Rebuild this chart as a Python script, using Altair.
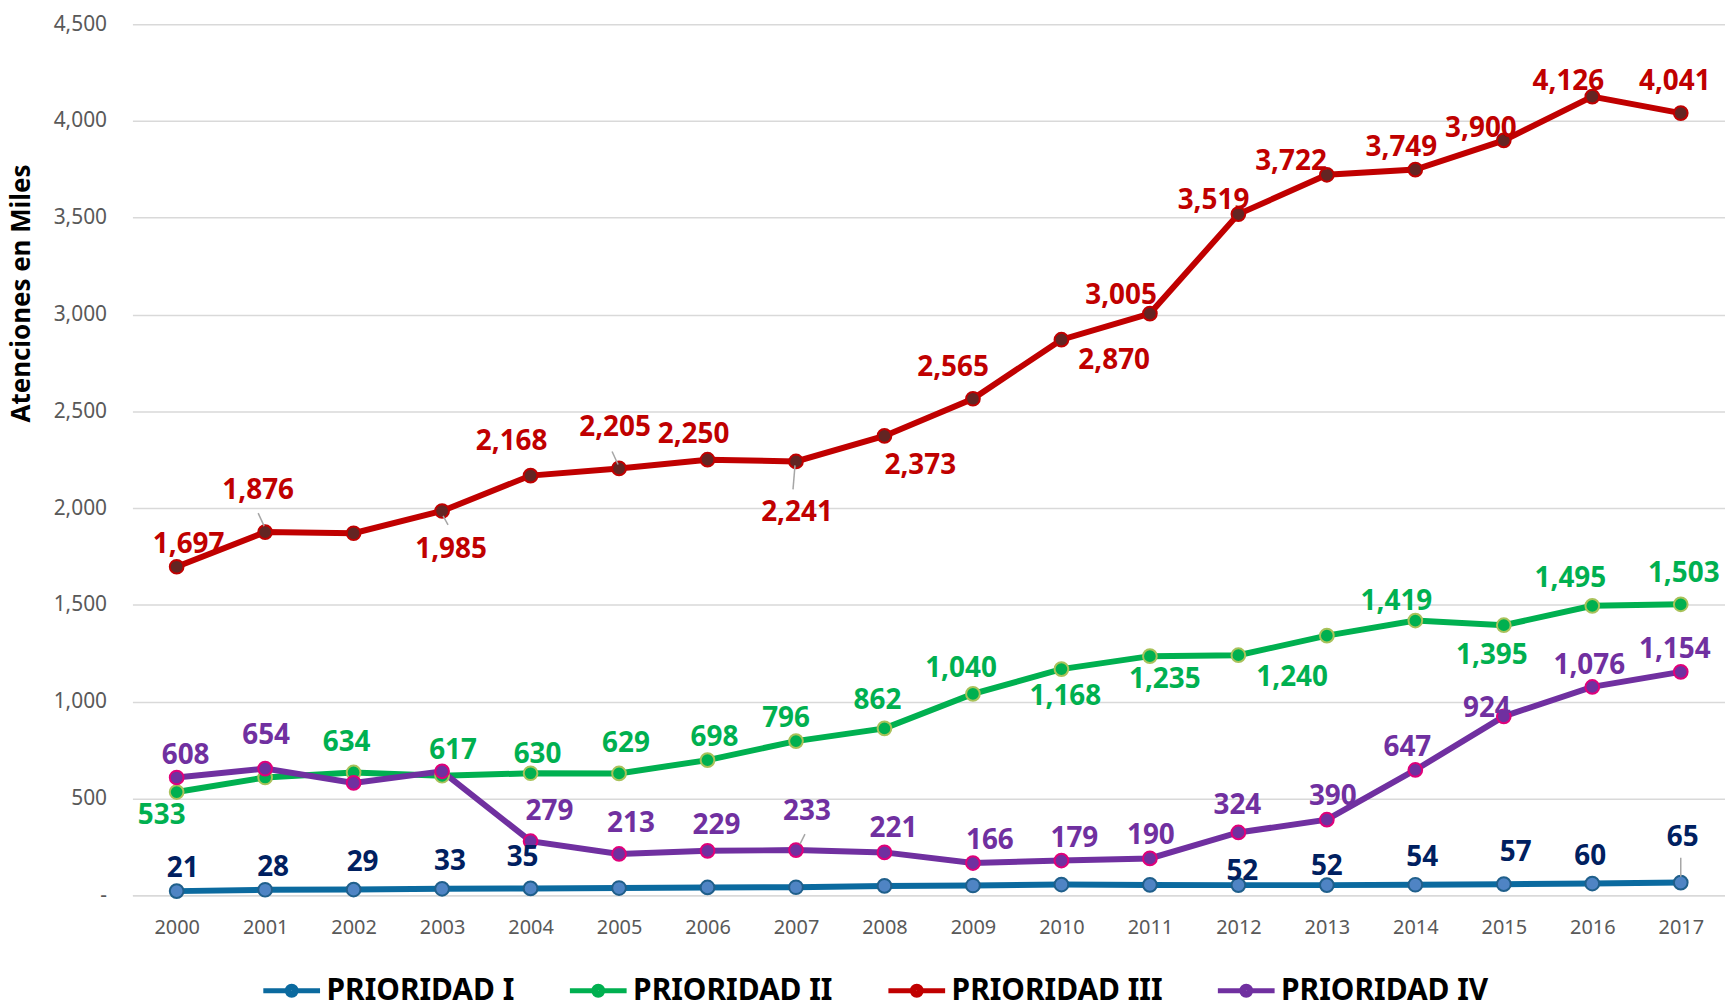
import altair as alt
import pandas as pd

YEARS = ["2000", "2001", "2002", "2003", "2004", "2005", "2006", "2007", "2008",
         "2009", "2010", "2011", "2012", "2013", "2014", "2015", "2016", "2017"]
SERIES = ["PRIORIDAD I", "PRIORIDAD II", "PRIORIDAD III", "PRIORIDAD IV"]

P1 = [21, 28, 29, 33, 35, 37, 40, 41, 48, 50, 55, 53, 52, 52, 54, 57, 60, 65]
P2 = [533, 608, 634, 617, 630, 629, 698, 796, 862, 1040, 1168, 1235, 1240, 1341, 1419, 1395, 1495, 1503]
P3 = [1697, 1876, 1870, 1985, 2168, 2205, 2250, 2241, 2373, 2565, 2870, 3005, 3519, 3722, 3749, 3900, 4126, 4041]
P4 = [608, 654, 580, 640, 279, 213, 229, 233, 221, 166, 179, 190, 324, 390, 647, 924, 1076, 1154]

VALUES = {SERIES[0]: P1, SERIES[1]: P2, SERIES[2]: P3, SERIES[3]: P4}

# label placement relative to the point, in pixels (None = no label shown)
LABEL_OFFSETS = {
    "PRIORIDAD I": [(6, -22), (8, -22), (9, -27), (8, -27), (-8, -31), None, None, None, None,
                    None, None, None, (4, -13), (0, -18), (7, -27), (12, -31), (-2, -27), (2, -45)],
    "PRIORIDAD II": [(-15, 24), None, (-7, -30), (11, -25), (7, -18), (7, -30), (7, -22), (-10, -22),
                     (-7, -27), (-12, -25), (4, 28), (15, 24), (54, 23), None, (-19, -19), (-12, 31),
                     (-22, -27), (3, -30)],
    "PRIORIDAD III": [(12, -22), (-7, -41), None, (9, 39), (-19, -34), (-4, -41), (-14, -25), (1, 52),
                      (36, 30), (-20, -31), (53, 21), (-29, -18), (-25, -13), (-36, -13), (-14, -22),
                      (-23, -11), (-24, -15), (-6, -31)],
    "PRIORIDAD IV": [(9, -22), (1, -33), None, None, (19, -29), (12, -30), (9, -25), (11, -38),
                     (9, -23), (17, -22), (13, -22), (1, -22), (-1, -27), (6, -23), (-8, -22),
                     (-17, -7), (-3, -21), (-6, -22)],
}

# leader lines for moved labels: (series, year, start dx, start dy, end dx, end dy) in pixels
LEADERS = [
    ("PRIORIDAD III", "2001", -7, -19, -1, -6),
    ("PRIORIDAD III", "2003", 1, 5, 6, 14),
    ("PRIORIDAD III", "2005", -7, -17, -1, -4),
    ("PRIORIDAD III", "2007", -1, 4, -3, 28),
    ("PRIORIDAD IV", "2007", 4, -6, 9, -16),
    ("PRIORIDAD I", "2017", 0, -6, 0, -25),
]

LINE_COLORS = ["#0B6A9F", "#00B050", "#C00000", "#7030A0"]
MARKER_FILL = ["#4F84C4", "#00B050", "#632523", "#7030A0"]
MARKER_STROKE = ["#1F5F8B", "#A9C25A", "#C00000", "#E0007A"]
LABEL_COLORS = ["#002060", "#00B050", "#C00000", "#7030A0"]

rows = []
for s in SERIES:
    for i, y in enumerate(YEARS):
        off = LABEL_OFFSETS[s][i]
        rows.append({
            "series": s,
            "year": y,
            "value": VALUES[s][i],
            "label": f"{VALUES[s][i]:,}",
            "show": off is not None,
            "dx": off[0] if off else 0,
            "dy": off[1] if off else 0,
        })
df = pd.DataFrame(rows)

lead_rows = []
for s, y, x1, y1, x2, y2 in LEADERS:
    lead_rows.append({"series": s, "year": y, "value": VALUES[s][YEARS.index(y)],
                      "x1": x1, "y1": y1, "x2": x2, "y2": y2})
df_lead = pd.DataFrame(lead_rows)

FONT = "Noto Sans"

x_enc = alt.X("year:O", sort=YEARS,
              scale=alt.Scale(type="point", padding=0.5),
              axis=alt.Axis(title=None, labelAngle=0, labelFont=FONT, labelFontSize=20,
                            labelColor="#595959", labelPadding=22, ticks=False,
                            domainColor="#D9D9D9", domainWidth=1.5, grid=False))
y_enc = alt.Y("value:Q",
              scale=alt.Scale(domain=[0, 4500], nice=False, zero=True),
              axis=alt.Axis(values=list(range(0, 4501, 500)),
                            labelExpr="datum.value == 0 ? '-\u00a0\u00a0' : format(datum.value, ',')",
                            labelFont=FONT, labelFontSize=21, labelColor="#595959",
                            labelPadding=26, ticks=False, domain=False,
                            gridColor="#D9D9D9", gridWidth=1.5,
                            title="Atenciones en Miles", titleFont=FONT, titleFontSize=26,
                            titleFontWeight="bold", titleColor="#000000",
                            titleX=-111, titleY=270, titleAlign="center",
                            titleBaseline="middle", titleAngle=270))

LEGEND_PATH = ("M-1,0H-0.16M0.16,0H1"
               "M-0.16,0A0.16,0.16,0,1,0,0.16,0A0.16,0.16,0,1,0,-0.16,0"
               "M-0.08,0A0.08,0.08,0,1,0,0.08,0A0.08,0.08,0,1,0,-0.08,0")

lines = alt.Chart(df).mark_line(strokeWidth=6).encode(
    x=x_enc,
    y=y_enc,
    color=alt.Color("series:N", sort=SERIES,
                    scale=alt.Scale(domain=SERIES, range=LINE_COLORS),
                    legend=alt.Legend(title=None, orient="none", legendX=129, legendY=940,
                                      direction="horizontal", columns=4,
                                      symbolType=LEGEND_PATH, symbolSize=3249,
                                      symbolStrokeWidth=5, labelFont=FONT, labelFontSize=30,
                                      labelFontWeight="bold", labelColor="#000000",
                                      labelOffset=4, columnPadding=45, labelLimit=400)),
    detail="series:N",
)

points = alt.Chart(df).mark_point(filled=True, size=190, strokeWidth=2, opacity=1).encode(
    x=alt.X("year:O", sort=YEARS),
    y="value:Q",
    fill=alt.Fill("series:N", scale=alt.Scale(domain=SERIES, range=MARKER_FILL), legend=None),
    stroke=alt.Stroke("series:N", scale=alt.Scale(domain=SERIES, range=MARKER_STROKE), legend=None),
)

leaders = alt.Chart(df_lead).mark_rule(
    color="#A6A6A6", strokeWidth=1.5,
    xOffset=alt.ExprRef("datum.x1"), yOffset=alt.ExprRef("datum.y1"),
    x2Offset=alt.ExprRef("datum.x2"), y2Offset=alt.ExprRef("datum.y2"),
).encode(
    x=alt.X("year:O", sort=YEARS),
    y="value:Q",
    x2="year:O",
    y2="value:Q",
)

labels = alt.Chart(df).transform_filter("datum.show").mark_text(
    font=FONT, fontWeight="bold", fontSize=28, align="center", baseline="middle",
    dx=alt.ExprRef("datum.dx"), dy=alt.ExprRef("datum.dy"),
).encode(
    x=alt.X("year:O", sort=YEARS),
    y="value:Q",
    text="label:N",
    fill=alt.Fill("series:N", scale=alt.Scale(domain=SERIES, range=LABEL_COLORS), legend=None),
)

chart = alt.layer(lines, points, leaders, labels).resolve_scale(
    fill="independent", stroke="independent"
).properties(
    width=1600,
    height=875,
    autosize=alt.AutoSizeParams(type="none"),
    padding={"left": 125, "top": 14, "right": 0, "bottom": 105},
    background="white",
).configure_view(stroke=None)

chart.save("out.html", embed_options={"renderer": "svg", "actions": False})
